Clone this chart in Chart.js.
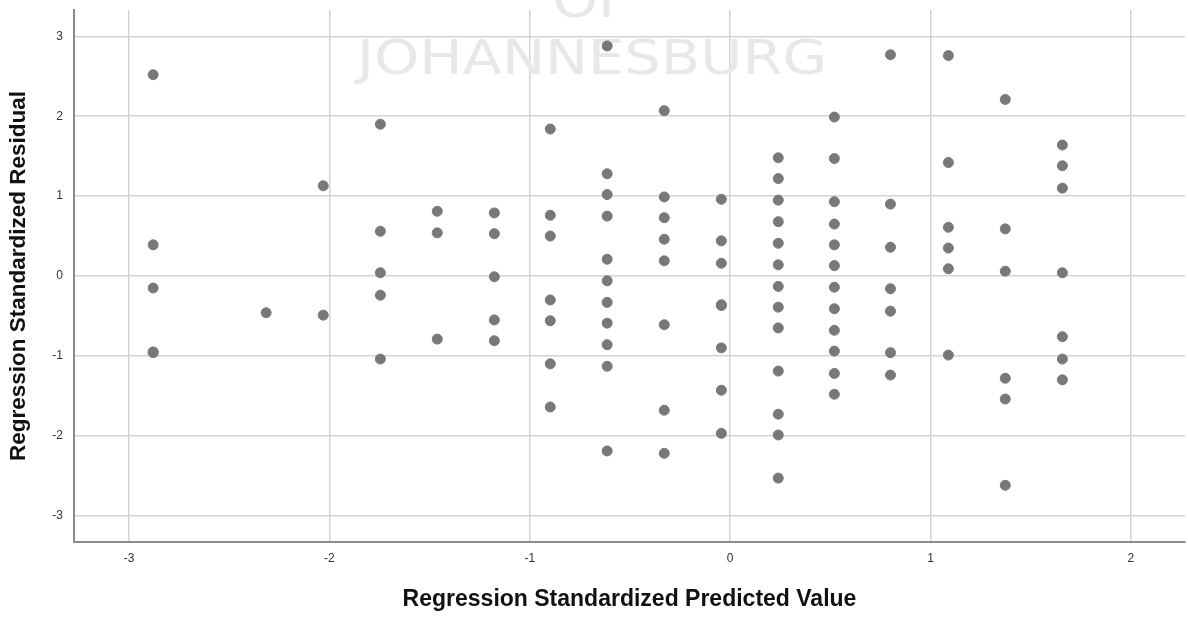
<!DOCTYPE html>
<html>
<head>
<meta charset="utf-8">
<script src="https://cdn.jsdelivr.net/npm/chart.js@4"></script>
<style>
  html, body { margin: 0; padding: 0; background: #fff; }
  #wrap { width: 1188px; height: 617px; }
</style>
</head>
<body>
<div id="wrap"><canvas id="residChart" width="1188" height="617"></canvas></div>
<script>
// predicted value columns (x) and the residuals found in each column
const predictedCols = [-2.88, -2.316, -2.031, -1.746, -1.462, -1.177, -0.898, -0.614, -0.329, -0.044, 0.24, 0.52, 0.80, 1.089, 1.373, 1.658];
const residualCols = [
    [2.52, 0.39, -0.15, -0.95, -0.96],
    [-0.46],
    [1.13, -0.49],
    [1.90, 0.56, 0.04, -0.24, -1.04],
    [0.81, 0.54, -0.79],
    [0.79, 0.53, -0.01, -0.55, -0.81],
    [1.84, 0.76, 0.50, -0.30, -0.56, -1.10, -1.64],
    [2.88, 1.28, 1.02, 0.75, 0.21, -0.06, -0.33, -0.59, -0.86, -1.13, -2.19],
    [2.07, 0.99, 0.73, 0.46, 0.19, -0.61, -1.68, -2.22],
    [0.96, 0.44, 0.16, -0.36, -0.37, -0.90, -1.43, -1.97],
    [1.48, 1.22, 0.95, 0.68, 0.41, 0.14, -0.13, -0.39, -0.65, -1.19, -1.73, -1.99, -2.53],
    [1.99, 1.47, 0.93, 0.65, 0.39, 0.13, -0.14, -0.41, -0.68, -0.94, -1.22, -1.48],
    [2.77, 0.90, 0.36, -0.16, -0.44, -0.96, -1.24],
    [2.76, 1.42, 0.61, 0.35, 0.09, -0.99],
    [2.21, 0.59, 0.06, -1.28, -1.54, -2.62],
    [1.64, 1.38, 1.10, 0.04, -0.76, -1.04, -1.30]
];
const xTicks = [-3, -2, -1, 0, 1, 2];
const yTicks = [-3, -2, -1, 0, 1, 2, 3];

const points = [];
predictedCols.forEach((x, i) => {
    residualCols[i].forEach(y => points.push({ x: x, y: y }));
});

// faint watermark behind the plot
const watermark = {
    id: 'watermark',
    beforeDatasetsDraw(chart) {
        const ctx = chart.ctx;
        ctx.save();
        ctx.fillStyle = '#e8e8e8';
        ctx.textAlign = 'center';
        ctx.textBaseline = 'alphabetic';
        ctx.font = '48px "DejaVu Sans"';
        const sx = 470 / ctx.measureText('JOHANNESBURG').width;
        ctx.translate(592, 0);
        ctx.scale(sx, 1);
        ctx.fillText('JOHANNESBURG', 0, 74);
        ctx.fillText('OF', 0, 17);
        ctx.restore();
    }
};

new Chart(document.getElementById('residChart').getContext('2d'), {
    type: 'scatter',
    data: {
        datasets: [{
            data: points,
            backgroundColor: '#787878',
            borderColor: '#787878',
            pointRadius: 5,
            pointHoverRadius: 5
        }]
    },
    options: {
        responsive: false,
        animation: false,
        layout: { autoPadding: false, padding: { top: 10, right: 3, left: 0, bottom: 0 } },
        plugins: { legend: { display: false }, tooltip: { enabled: false } },
        scales: {
            x: {
                type: 'linear',
                min: -3.275,
                max: 2.27,
                afterBuildTicks: s => { s.ticks = xTicks.map(v => ({ value: v })); },
                afterFit: s => { s.height = 75; s.paddingLeft = 0; s.paddingRight = 0; },
                grid: { color: '#d3d3d3', lineWidth: 1.5, drawTicks: false },
                border: { color: '#8a8a8a', width: 2 },
                ticks: { color: '#333', font: { family: 'Liberation Sans', size: 12 }, padding: 9 },
                title: {
                    display: true,
                    text: 'Regression Standardized Predicted Value',
                    color: '#111',
                    font: { family: 'Liberation Sans', size: 23, weight: 'bold' },
                    padding: { top: 20 }
                }
            },
            y: {
                type: 'linear',
                min: -3.33,
                max: 3.33,
                afterBuildTicks: s => { s.ticks = yTicks.map(v => ({ value: v })); },
                afterFit: s => { s.width = 74; s.paddingTop = 0; s.paddingBottom = 0; },
                grid: { color: '#d3d3d3', lineWidth: 1.5, drawTicks: false },
                border: { color: '#8a8a8a', width: 2 },
                ticks: { color: '#333', font: { family: 'Liberation Sans', size: 12 }, padding: 11 },
                title: {
                    display: true,
                    text: 'Regression Standardized Residual',
                    color: '#111',
                    font: { family: 'Liberation Sans', size: 22.5, weight: 'bold' },
                    padding: { top: 5, bottom: 7 }
                }
            }
        }
    },
    plugins: [watermark]
});
</script>
</body>
</html>
